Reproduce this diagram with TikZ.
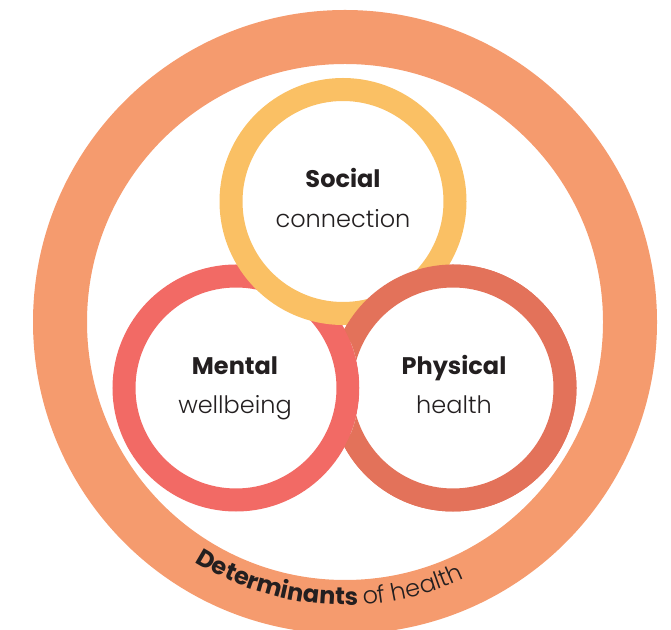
\documentclass[tikz,border=0pt]{standalone}
\usepackage{fontspec}
\setmainfont{Poppins}
\newfontfamily\poplight{Poppins Light}
\usetikzlibrary{decorations.text}
\definecolor{outerc}{HTML}{F59B6E}
\definecolor{socialc}{HTML}{FAC064}
\definecolor{mentalc}{HTML}{F26A65}
\definecolor{physc}{HTML}{E3725A}
\definecolor{txt}{HTML}{231F20}
\tikzset{
  ringline/.style={line width=23pt, fill=white},
  titletext/.style={font=\fontsize{24}{28}\selectfont\bfseries, text=txt, anchor=base, inner sep=0pt},
  subtext/.style={font=\fontsize{24}{28}\selectfont\poplight, text=txt, anchor=base, inner sep=0pt}
}
\begin{document}
\begin{tikzpicture}[x=1pt,y=1pt]
\useasboundingbox (0,0) rectangle (671,629);
\clip (0,0) rectangle (671,629);
\coordinate (outerC) at (345,307);
\coordinate (socialC) at (343,427.5);
\coordinate (mentalC) at (236,241);
\coordinate (physC) at (453,241);
% outer ring
\draw[outerc, line width=54pt] (outerC) circle[radius=285];
% three rings
\draw[physc, ringline] (physC) circle[radius=112];
\draw[mentalc, ringline] (mentalC) circle[radius=112];
\draw[socialc, ringline] (socialC) circle[radius=112];
% physical over social (upper right)
\begin{scope}
  \clip (153,56) -- (571,606) -- (700,606) -- (700,-71) -- (153,-71) -- cycle;
  \begin{scope}[even odd rule]
    \clip (-10,-100) rectangle (700,700) (mentalC) circle[radius=123.5];
    \draw[physc, ringline] (physC) circle[radius=112];
  \end{scope}
\end{scope}
% labels
\node[titletext] (socialT) at (343,441.7) {Social};
\node[subtext] (socialS) at (343,401.7) {connection};
\node[titletext] (mentalT) at (235,254) {Mental};
\node[subtext] (mentalS) at (235,215) {wellbeing};
\node[titletext] (physT) at (454,254) {Physical};
\node[subtext] (physS) at (454,215) {health};
% curved label
\path[decorate, decoration={text along path, text align=center,
  text={|\fontsize{24}{28}\selectfont\bfseries\color{txt}|Determinants |\fontsize{24}{28}\selectfont\mdseries\poplight\color{txt}|of health}}]
  (outerC) ++(226.5:283) arc[start angle=226.5, end angle=306.5, radius=283];
\end{tikzpicture}
\end{document}
